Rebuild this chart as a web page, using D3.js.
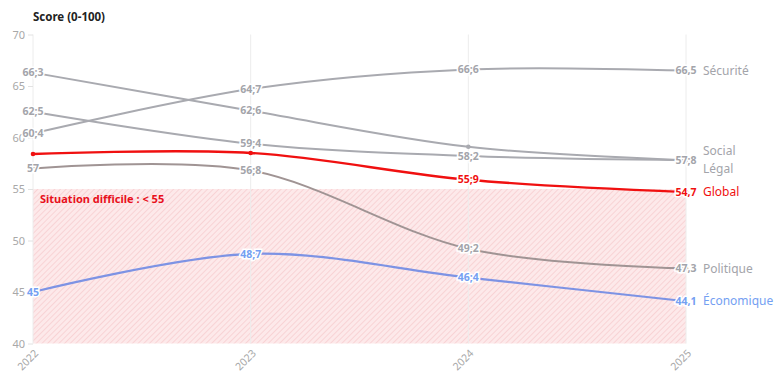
<!DOCTYPE html>
<html>
<head>
<meta charset="utf-8">
<script src="https://cdn.jsdelivr.net/npm/d3@7"></script>
<style>
  body { margin: 0; background: #fff; }
  svg { font-family: "Noto Sans", "Open Sans", sans-serif; }
</style>
</head>
<body>
<div id="chart"></div>
<script>
// data
var years = [2022, 2023, 2024, 2025];
var yTicks = [40, 45, 50, 55, 60, 65, 70];

var securite = [60.4, 64.7, 66.6, 66.5];
var social = [66.3, 62.6, 59.1, 57.8];
var legal = [62.5, 59.4, 58.2, 57.8];
var global = [58.4, 58.5, 55.9, 54.7];
var politique = [57, 56.8, 49.2, 47.3];
var economique = [45, 48.7, 46.4, 44.1];

var securiteLabels = ["60;4", "64;7", "66;6", "66,5"];
var socialLabels = ["66;3", "62;6", "", ""];
var legalLabels = ["62;5", "59;4", "58;2", "57;8"];
var globalLabels = ["", "", "55;9", "54,7"];
var politiqueLabels = ["57", "56;8", "49;2", "47,3"];
var economiqueLabels = ["45", "48;7", "46;4", "44,1"];

var seriesNames = ["Sécurité", "Social", "Légal", "Global", "Politique", "Économique"];
var nameOffsets = [0, -9, 9, 0, 0, 0]; // Social / Légal share an end point

var threshold = 55;

let w = 774, h = 374;

var series = [
  {name: "Sécurité", values: securite, labels: securiteLabels, color: "#a9aab0", text: "#a3a4aa", width: 2},
  {name: "Social", values: social, labels: socialLabels, color: "#a9aab0", text: "#a3a4aa", width: 2},
  {name: "Légal", values: legal, labels: legalLabels, color: "#a9aab0", text: "#a3a4aa", width: 2},
  {name: "Politique", values: politique, labels: politiqueLabels, color: "#a09494", text: "#a3a4aa", width: 2},
  {name: "Économique", values: economique, labels: economiqueLabels, color: "#7d93e4", text: "#74a0f2", width: 2.2},
  {name: "Global", values: global, labels: globalLabels, color: "#f01010", text: "#f01010", width: 2.4}
];

var x = d3.scalePoint().domain(years).range([33, 686]);
var y = d3.scaleLinear().domain([40, 70]).range([343.5, 34.5]);

var svg = d3.select("#chart").append("svg")
  .attr("width", w)
  .attr("height", h);

// hatch pattern
var defs = svg.append("defs");
var pat = defs.append("pattern")
  .attr("id", "hatch")
  .attr("patternUnits", "userSpaceOnUse")
  .attr("width", 4).attr("height", 4)
  .attr("patternTransform", "rotate(45)");
pat.append("rect").attr("width", 4).attr("height", 4).attr("fill", "#fde9ea");
pat.append("line").attr("x1", 0).attr("y1", 0).attr("x2", 0).attr("y2", 4)
  .attr("stroke", "#f6c4c8").attr("stroke-width", 1.2);

svg.append("rect")
  .attr("x", x(2022))
  .attr("y", y(threshold))
  .attr("width", x(2025) - x(2022))
  .attr("height", y(40) - y(threshold))
  .attr("fill", "url(#hatch)");

svg.append("text")
  .attr("x", x(2022) + 7)
  .attr("y", y(threshold) + 14)
  .attr("fill", "#e8101c")
  .attr("font-size", 11)
  .attr("font-weight", "bold")
  .text("Situation difficile : < 55");

// vertical grid lines
svg.append("g").selectAll("line")
  .data(years)
  .enter().append("line")
  .attr("x1", d => x(d)).attr("x2", d => x(d))
  .attr("y1", y(70)).attr("y2", y(40))
  .attr("stroke", "#ececec")
  .attr("stroke-width", 1);

// y axis
var yAxis = svg.append("g")
  .attr("transform", "translate(" + x(2022) + ",0)")
  .call(d3.axisLeft(y).tickValues(yTicks).tickSize(5).tickPadding(3));
yAxis.select(".domain").remove();
yAxis.selectAll(".tick line").attr("stroke", "#e2e2e2");
yAxis.selectAll(".tick text")
  .attr("fill", "#a8a8a8")
  .attr("font-size", 11)
  .attr("font-family", "Noto Sans, sans-serif");

// x labels
svg.append("g").selectAll("text")
  .data(years)
  .enter().append("text")
  .attr("transform", d => "translate(" + (x(d) + 6) + ",354) rotate(-45)")
  .attr("text-anchor", "end")
  .attr("fill", "#a8a8a8")
  .attr("font-size", 10.5)
  .text(d => d);

svg.append("text")
  .attr("x", 33)
  .attr("y", 21)
  .attr("fill", "#222")
  .attr("font-size", 11.5)
  .attr("font-weight", "bold")
  .text("Score (0-100)");

var line = d3.line()
  .x((d, i) => x(years[i]))
  .y(d => y(d))
  .curve(d3.curveCardinal.tension(0));

var g = svg.append("g");

series.forEach(function(s) {
  g.append("path")
    .datum(s.values)
    .attr("d", line)
    .attr("fill", "none")
    .attr("stroke", s.color)
    .attr("stroke-width", s.width);

  g.selectAll(null)
    .data(s.values)
    .enter().append("circle")
    .attr("cx", (d, i) => x(years[i]))
    .attr("cy", d => y(d))
    .attr("r", 2.3)
    .attr("fill", s.color);
});

// value labels
series.forEach(function(s) {
  g.selectAll(null)
    .data(s.values.map((v, i) => ({v: v, i: i, t: s.labels[i]})).filter(d => d.t !== ""))
    .enter().append("text")
    .attr("x", d => x(years[d.i]))
    .attr("y", d => y(d.v))
    .attr("dy", "0.35em")
    .attr("text-anchor", "middle")
    .attr("font-size", 10.5)
    .attr("font-weight", "bold")
    .attr("fill", s.text)
    .attr("stroke", "#fff")
    .attr("stroke-width", 3)
    .attr("paint-order", "stroke")
    .text(d => d.t);
});

// series names at the right
series.forEach(function(s) {
  var k = seriesNames.indexOf(s.name);
  g.append("text")
    .attr("x", x(2025) + 17)
    .attr("y", y(s.values[3]) + nameOffsets[k])
    .attr("dy", "0.35em")
    .attr("font-size", 12)
    .attr("fill", s.text)
    .text(s.name);
});
</script>
</body>
</html>
